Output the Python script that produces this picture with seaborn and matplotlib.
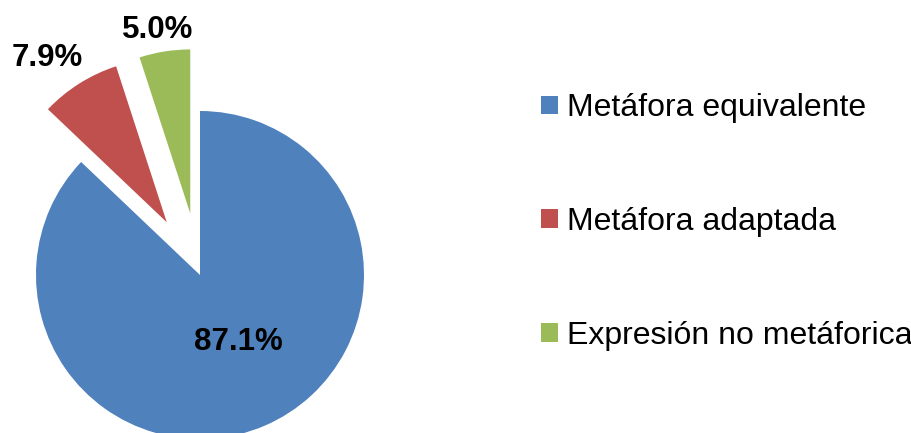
import numpy as np
import matplotlib
matplotlib.use("Agg")
import matplotlib.pyplot as plt
import seaborn as sns
from matplotlib.patches import Patch

categories = ["Metáfora equivalente", "Metáfora adaptada", "Expresión no metáforica"]
values = [87.1, 7.9, 5.0]
colors = ["#4F81BD", "#C0504D", "#9BBB59"]
explode = [0.0, 0.38, 0.38]
label_dist = [0.47, 1.24, 1.135]
label_turn = [6.4, 3.0, 0.7]

sns.set_theme(style="white")
plt.rcParams['font.family'] = ['Liberation Sans', 'DejaVu Sans']
plt.rcParams['text.color'] = 'black'

W, H = 911, 433
fig = plt.figure(figsize=(W / 100, H / 100), dpi=100)
ax = fig.add_axes([0, 0, 1, 1])

cx, cy, r = 200, 433 - 275, 164
wedges, texts = ax.pie(values, colors=colors, explode=[e * r for e in explode],
                       startangle=90, counterclock=False, center=(cx, cy),
                       radius=r, wedgeprops=dict(linewidth=0))
ax.set_xlim(0, W)
ax.set_ylim(0, H)
ax.set_aspect("equal")
ax.axis("off")

total = sum(values)
cum = 0
for v, e, d, t in zip(values, explode, label_dist, label_turn):
    mid = 90 - (cum + v / 2) / total * 360 + t
    cum += v
    a = np.deg2rad(mid)
    x = cx + (e + d) * r * np.cos(a)
    y = cy + (e + d) * r * np.sin(a)
    ax.text(x, y, f"{v:.1f}%", ha="center", va="center", fontsize=22.5,
            fontweight="bold", color="black")

handles = [Patch(facecolor=c, edgecolor="none") for c in colors]
leg = fig.legend(handles, categories, loc="center left",
                 bbox_to_anchor=(541 / W, 1 - 222 / H), frameon=False,
                 fontsize=23, labelspacing=2.62, handlelength=0.53,
                 handleheight=0.53, handletextpad=0.28, borderpad=0,
                 borderaxespad=0, labelcolor="black")

fig.savefig("out.png", dpi=100)
